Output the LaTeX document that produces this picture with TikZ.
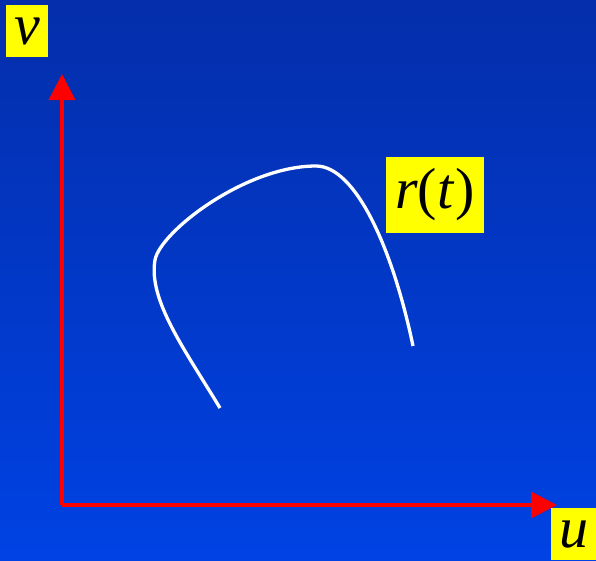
\documentclass[tikz,border=0pt]{standalone}
\usepackage{fontspec}
\setmainfont{Liberation Serif}
\usetikzlibrary{arrows.meta}
\definecolor{bgtop}{RGB}{4,46,170}
\definecolor{bgbot}{RGB}{0,66,228}
\definecolor{axred}{RGB}{255,0,0}
\definecolor{lblyel}{RGB}{255,255,0}
\begin{document}
\begin{tikzpicture}[x=1pt,y=-1pt,
  axis/.style={draw=axred,line width=3.5pt,-{Triangle[length=26pt,width=26pt]}},
  lbl/.style={fill=lblyel,inner sep=0pt,font=\fontsize{58}{58}\selectfont,text=black},
  curvestyle/.style={draw=white,line width=3.3pt}]
\useasboundingbox (0,0) rectangle (596,560);
\shade[top color=bgtop,bottom color=bgbot] (0,0) rectangle (596,560);
\coordinate (o) at (62,505);
\coordinate (vtip) at (62,74);
\coordinate (utip) at (557,505);
\draw[axis] (o) -- (vtip);
\draw[axis] (o) -- (utip);
\node[lbl,minimum width=42pt,minimum height=52pt] (v) at (27,31) {\itshape v};
\node[lbl,minimum width=45pt,minimum height=52pt,anchor=north west] (u) at (551,508) {\itshape u};
\node[lbl,minimum width=98pt,minimum height=76pt] (r) at (435,195) {\textit{r}(\textit{t}\kern1pt)};
\draw[curvestyle] (220,408) .. controls (185,350) and (148,300) .. (155,260)
  .. controls (160,232) and (245,166) .. (316,166)
  .. controls (356,166) and (393,250) .. (413,346);
\end{tikzpicture}
\end{document}
